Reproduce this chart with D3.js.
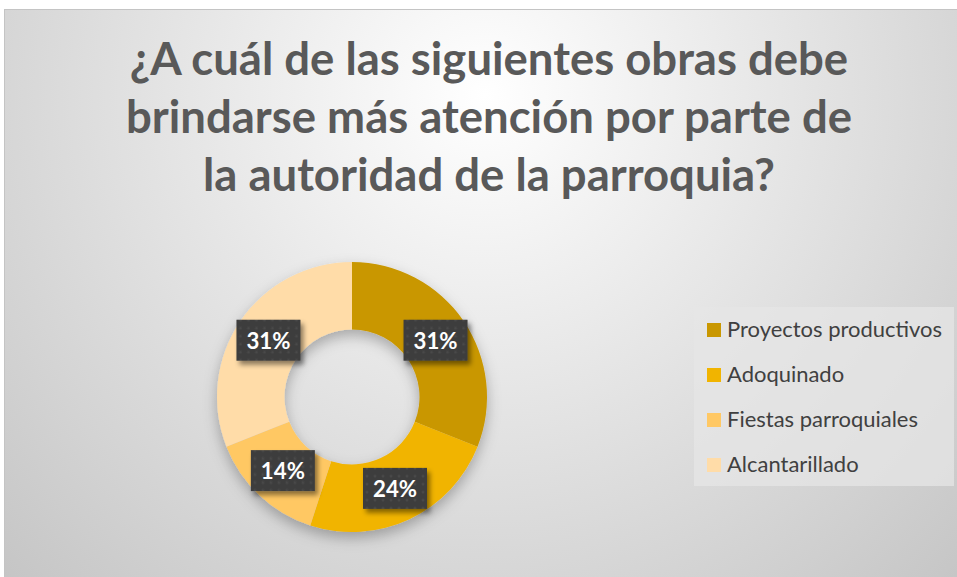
<!DOCTYPE html>
<html>
<head>
<meta charset="utf-8">
<script src="https://cdn.jsdelivr.net/npm/d3@7"></script>
<style>
  html, body { margin: 0; padding: 0; background: #fff; }
  svg { display: block; }
</style>
</head>
<body>
<div id="chart"></div>
<script>
const titleLines = ["¿A cuál de las siguientes obras debe", "brindarse más atención por parte de", "la autoridad de la parroquia?"];
const categories = ["Proyectos productivos", "Adoquinado", "Fiestas parroquiales", "Alcantarillado"];
const values = [31, 24, 14, 31];
const colors = ["#C99700", "#F1B400", "#FFC864", "#FFDCA8"];

let width = 957, height = 577;

let svg = d3.select("#chart").append("svg")
    .attr("width", width)
    .attr("height", height);

let defs = svg.append("defs");

// background gradient
let bg = defs.append("radialGradient")
    .attr("id", "bg")
    .attr("gradientUnits", "userSpaceOnUse")
    .attr("cx", 485).attr("cy", 95).attr("r", 720);
bg.append("stop").attr("offset", 0).attr("stop-color", "#ffffff");
bg.append("stop").attr("offset", 1).attr("stop-color", "#c2c2c2");

// soft shadow for the donut
let sh = defs.append("filter").attr("id", "donutShadow")
    .attr("x", "-30%").attr("y", "-30%").attr("width", "160%").attr("height", "160%");
sh.append("feDropShadow").attr("dx", 0).attr("dy", 6).attr("stdDeviation", 7)
    .attr("flood-color", "#000").attr("flood-opacity", 0.28);

let bs = defs.append("filter").attr("id", "boxShadow")
    .attr("x", "-30%").attr("y", "-30%").attr("width", "160%").attr("height", "160%");
bs.append("feDropShadow").attr("dx", 3).attr("dy", 4).attr("stdDeviation", 2.5)
    .attr("flood-color", "#000").attr("flood-opacity", 0.45);

// dotted pattern for the label boxes
let pat = defs.append("pattern").attr("id", "dots")
    .attr("patternUnits", "userSpaceOnUse").attr("width", 8).attr("height", 8);
pat.append("rect").attr("width", 8).attr("height", 8).attr("fill", "#3d3d3d");
pat.append("circle").attr("cx", 4).attr("cy", 4).attr("r", 1.4).attr("fill", "#484848");

svg.append("rect")
    .attr("x", 4.5).attr("y", 9.5)
    .attr("width", width - 4).attr("height", height - 9)
    .attr("fill", "url(#bg)")
    .attr("stroke", "#c4c4c4");

// title
let titleFont = "Lato, 'Open Sans', sans-serif";
let title = svg.append("g").attr("class", "title");
let titleY = [75, 133, 191];
title.selectAll("text")
    .data(titleLines)
    .enter().append("text")
    .attr("x", 489)
    .attr("y", (d, i) => titleY[i])
    .attr("text-anchor", "middle")
    .style("font-family", titleFont)
    .style("font-weight", "bold")
    .style("font-size", "45px")
    .style("fill", "#595959")
    .text(d => d);
// squeeze to match the narrower original face
let tNodes = title.selectAll("text").nodes();
let tScale = 726 / tNodes[1].getComputedTextLength();
tNodes.forEach(n => {
    let w = n.getComputedTextLength();
    d3.select(n).attr("textLength", w * tScale).attr("lengthAdjust", "spacingAndGlyphs");
});

// donut
let cx = 352, cy = 397;
let outerR = 135, innerR = 67.5;

let pie = d3.pie().value(d => d).sort(null);
let arcs = pie(values);
let arc = d3.arc().innerRadius(innerR).outerRadius(outerR);
let labelArc = d3.arc().innerRadius(101).outerRadius(101);
let total = d3.sum(values);

let g = svg.append("g").attr("transform", "translate(" + cx + "," + cy + ")");

g.append("g")
    .attr("filter", "url(#donutShadow)")
    .selectAll("path")
    .data(arcs)
    .enter().append("path")
    .attr("d", arc)
    .attr("fill", (d, i) => colors[i]);

let labels = g.selectAll(".lbl")
    .data(arcs)
    .enter().append("g")
    .attr("class", "lbl")
    .attr("transform", d => "translate(" + labelArc.centroid(d) + ")");

labels.append("rect")
    .attr("x", -32).attr("y", -20.5)
    .attr("width", 64).attr("height", 41)
    .attr("fill", "url(#dots)")
    .attr("filter", "url(#boxShadow)");

labels.append("text")
    .attr("text-anchor", "middle")
    .attr("y", 8.5)
    .style("font-family", titleFont)
    .style("font-weight", "bold")
    .style("font-size", "23px")
    .style("fill", "#ffffff")
    .text(d => Math.round(d.value / total * 100) + "%")
    .attr("textLength", 44)
    .attr("lengthAdjust", "spacingAndGlyphs");

// legend
let legend = svg.append("g").attr("class", "legend");
legend.append("rect")
    .attr("x", 694).attr("y", 307)
    .attr("width", 260).attr("height", 179)
    .attr("fill", "#e6e6e6")
    .attr("fill-opacity", 0.75);

let ly = d3.scalePoint().domain(categories).range([330, 465]);

let keys = legend.selectAll(".key")
    .data(categories)
    .enter().append("g")
    .attr("class", "key")
    .attr("transform", d => "translate(707," + ly(d) + ")");

keys.append("rect")
    .attr("x", 0).attr("y", -7)
    .attr("width", 14).attr("height", 14)
    .attr("fill", (d, i) => colors[i]);

keys.append("text")
    .attr("x", 20).attr("y", 6.5)
    .style("font-family", titleFont)
    .style("font-size", "21px")
    .style("fill", "#404040")
    .text(d => d);

let kNodes = keys.selectAll("text").nodes();
let kScale = 215 / kNodes[0].getComputedTextLength();
kNodes.forEach(n => {
    let w = n.getComputedTextLength();
    d3.select(n).attr("textLength", w * kScale).attr("lengthAdjust", "spacingAndGlyphs");
});
</script>
</body>
</html>
